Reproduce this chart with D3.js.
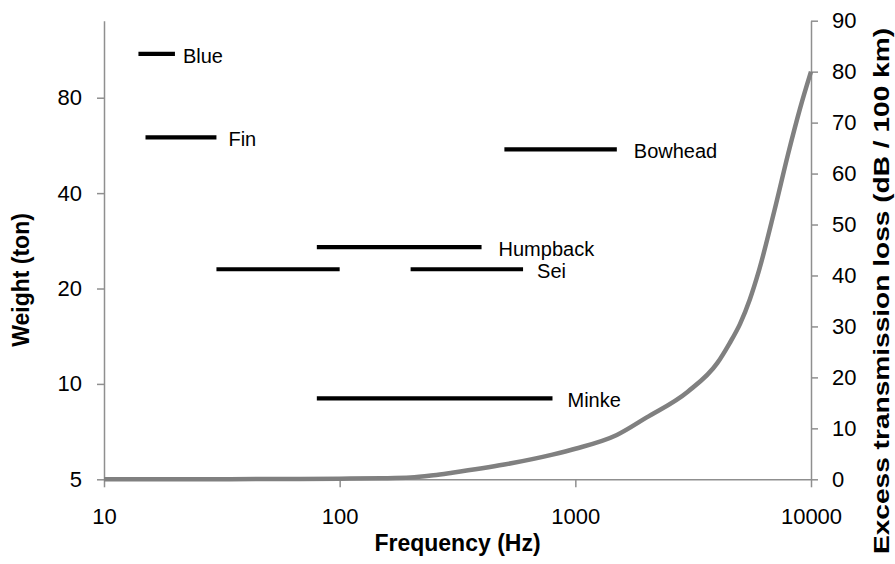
<!DOCTYPE html>
<html>
<head>
<meta charset="utf-8">
<script src="https://cdn.jsdelivr.net/npm/d3@7"></script>
<style>
  html, body { margin: 0; padding: 0; background: #fff; }
  svg { display: block; font-family: "Liberation Sans", Arial, sans-serif; }
</style>
</head>
<body>
<svg id="chart" width="895" height="564"></svg>
<script>
// Baleen whales: body weight vs. call frequency band
const species    = ["Blue", "Fin", "Bowhead", "Humpback", "Sei", "Minke"];
const weightTon  = [110, 60, 55, 27, 23, 9];
const bandLowHz  = [[14], [15], [500], [80], [30, 200], [80]];
const bandHighHz = [[20], [30], [1500], [400], [100, 600], [800]];

// Excess transmission loss of sea water by frequency
const lossFreqHz = [10, 20, 50, 100, 150, 200, 250, 300, 500, 800, 1000, 1500, 2000,
                    3000, 4000, 4500, 5000, 5500, 6000, 7000, 8000, 9000, 10000];
const lossDb     = [0, 0, 0.05, 0.12, 0.2, 0.35, 0.8, 1.3, 2.9, 4.85, 6.0, 8.7, 12.1,
                    17.2, 22.8, 26.6, 30.5, 35.3, 40.8, 52.8, 63.9, 72.9, 80];

// Axis ticks
const freqTicks   = [10, 100, 1000, 10000];
const weightTicks = [5, 10, 20, 40, 80];
const lossTicks   = d3.range(0, 91, 10);

// Per-label horizontal gap after the last band segment (px)
const labelGap = [8, 12, 17, 17, 14, 15];

const svg = d3.select("#chart");
const plotL = 104, plotR = 811, plotT = 20.7, plotB = 479.3;
const axisColor = "#8f8f8f";
const tickFont = "22px";

const x  = d3.scaleLog().domain([10, 10000]).range([plotL, plotR]);
const yW = d3.scaleLog().base(2).domain([5, 140]).range([plotB, plotT]);
const yL = d3.scaleLinear().domain([0, 90]).range([plotB, plotT]);

function styleAxis(g) {
  g.select(".domain").attr("stroke", axisColor).attr("stroke-width", 1.5);
  g.selectAll(".tick line").attr("stroke", axisColor).attr("stroke-width", 1.5);
  g.selectAll(".tick text").attr("fill", "#000").style("font-size", tickFont)
    .style("font-family", '"Liberation Sans", Arial, sans-serif');
}

// Bottom axis
svg.append("g")
  .attr("transform", `translate(0,${plotB})`)
  .call(d3.axisBottom(x).tickValues(freqTicks).tickFormat(d3.format("d"))
        .tickSize(8).tickSizeOuter(0).tickPadding(21))
  .call(styleAxis);

// Left axis (weight, log2)
svg.append("g")
  .attr("transform", `translate(${plotL},0)`)
  .call(d3.axisLeft(yW).tickValues(weightTicks).tickFormat(d3.format("d"))
        .tickSize(7).tickSizeOuter(0).tickPadding(15))
  .call(styleAxis);

// Right axis (transmission loss)
svg.append("g")
  .attr("transform", `translate(${plotR},0)`)
  .call(d3.axisRight(yL).tickValues(lossTicks).tickFormat(d3.format("d"))
        .tickSize(7).tickSizeOuter(0).tickPadding(14))
  .call(styleAxis);

// Transmission loss curve
const lossPts = lossFreqHz.map((f, i) => [f, lossDb[i]]);
svg.append("path")
  .datum(lossPts)
  .attr("fill", "none")
  .attr("stroke", "#808080")
  .attr("stroke-width", 4.5)
  .attr("stroke-linejoin", "round")
  .attr("d", d3.line().x(d => x(d[0])).y(d => yL(d[1])).curve(d3.curveMonotoneX));

// Frequency bands per species
const segs = [];
species.forEach((s, i) => {
  bandLowHz[i].forEach((lo, j) => segs.push({ lo, hi: bandHighHz[i][j], w: weightTon[i] }));
});
svg.append("g").selectAll("line").data(segs).join("line")
  .attr("x1", d => x(d.lo)).attr("x2", d => x(d.hi))
  .attr("y1", d => yW(d.w)).attr("y2", d => yW(d.w))
  .attr("stroke", "#000").attr("stroke-width", 4.2);

// Species labels
svg.append("g").selectAll("text").data(species).join("text")
  .attr("x", (d, i) => x(d3.max(bandHighHz[i])) + labelGap[i])
  .attr("y", (d, i) => yW(weightTon[i]) + 9)
  .style("font-size", "20px")
  .attr("fill", "#000")
  .text(d => d);

// Axis titles
svg.append("text")
  .attr("x", (plotL + plotR) / 2).attr("y", 551)
  .attr("text-anchor", "middle")
  .style("font-size", "23px").style("font-weight", "bold")
  .text("Frequency (Hz)");

svg.append("text")
  .attr("transform", "translate(29,280) rotate(-90)")
  .attr("text-anchor", "middle")
  .style("font-size", "23px").style("font-weight", "bold")
  .text("Weight (ton)");

svg.append("text")
  .attr("transform", "translate(889,291) rotate(-90)")
  .attr("text-anchor", "middle")
  .attr("textLength", 526).attr("lengthAdjust", "spacingAndGlyphs")
  .style("font-size", "22px").style("font-weight", "bold")
  .text("Excess transmission loss (dB / 100 km)");
</script>
</body>
</html>
